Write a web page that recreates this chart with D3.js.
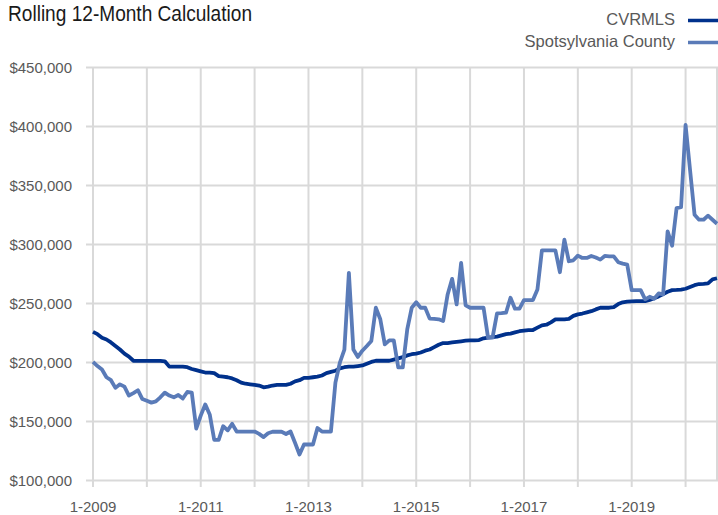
<!DOCTYPE html>
<html>
<head>
<meta charset="utf-8">
<script src="https://cdn.jsdelivr.net/npm/d3@7"></script>
<style>
  html, body { margin: 0; padding: 0; background: #fff; }
  svg { display: block; }
</style>
</head>
<body>
<div id="chart"></div>
<script>
// monthly values, 1-2009 .. 8-2020
const cvrmls = [
  226000, 224000, 221000, 219500, 217000, 214000, 211000, 207500, 205000, 201500, 201400, 201400,
  201400, 201400, 201400, 201400, 201000, 196500, 196500, 196500, 196500, 196000, 194500, 193500,
  192500, 191500, 191500, 191000, 188500, 188000, 187500, 186500, 185000, 183000, 182000, 181500,
  181000, 180500, 179000, 179500, 180500, 181000, 181000, 181000, 182000, 184000, 185000, 187000,
  187000, 187500, 188000, 189000, 191000, 192000, 193000, 195000, 196000, 196500, 196500, 197000,
  197500, 199000, 200500, 201500, 201500, 201500, 201500, 202500, 203500, 204500, 206000, 207000,
  207500, 208500, 210000, 211000, 213000, 215000, 216500, 216500, 217000, 217500, 218000, 218500,
  218800, 218800, 219000, 220500, 221000, 221500, 222000, 223000, 224000, 224500, 225500, 226500,
  227000, 227500, 227500, 229500, 231500, 232000, 234000, 236500, 236600, 236600, 237000, 239500,
  240800, 241500, 242500, 243500, 245000, 246400, 246400, 246400, 247000, 249500, 251000, 251500,
  251800, 252000, 252000, 252000, 253000, 254500, 256000, 258000, 260000, 261300, 261500, 261800,
  262500, 264000, 265500, 266500, 266700, 267000, 270500, 271400
]
const spotsylvania = [
  200500, 197000, 194000, 187500, 185000, 178500, 181500, 179500, 172000, 174000, 176500, 169000,
  167500, 166000, 167000, 170500, 174500, 172000, 170500, 172500, 169500, 175000, 174500, 144000,
  155000, 164500, 156000, 134500, 134500, 146000, 142500, 148000, 141500, 141500, 141500, 141500,
  141500, 139500, 136800, 140000, 141300, 141300, 141300, 139400, 141500, 132000, 122000, 130500,
  130500, 130500, 144500, 141500, 141500, 141500, 183000, 200000, 211000, 276000, 211000, 204700,
  210000, 214000, 218200, 246400, 236600, 215400, 218800, 218800, 195800, 195800, 228000, 246400,
  251000, 246400, 246400, 237200, 237000, 236600, 235200, 257700, 270900, 249200, 284400, 248400,
  246400, 246400, 246400, 246400, 221100, 221100, 241600, 241800, 242200, 254900, 245600, 245600,
  252900, 252900, 252900, 261900, 295100, 295100, 295100, 295100, 276500, 304100, 285800, 286600,
  290600, 288600, 288600, 290300, 289000, 287200, 290300, 290000, 290000, 285000, 283800, 283000,
  261300, 261300, 261300, 253500, 255700, 254000, 258500, 257700, 311100, 299000, 330900, 331700,
  401300, 363000, 325200, 321000, 321000, 324400, 321000, 317600
]
const yTicks = [100000, 150000, 200000, 250000, 300000, 350000, 400000, 450000]
const seriesNames = ['CVRMLS', 'Spotsylvania County']
const seriesColors = ['#00318c', '#5a7bb8']

const startYear = 2009
const months = cvrmls.map((v, i) => `${(i % 12) + 1}-${startYear + Math.floor(i / 12)}`)
const yearStarts = months.filter(m => m.startsWith('1-'))
const labelled = yearStarts.filter(m => (+m.split('-')[1] - startYear) % 2 === 0)

const width = 718
const height = 515
const plot = { left: 93, right: 717, top: 67.5, bottom: 480.5 }

const svg = d3.select('#chart').append('svg')
  .attr('width', width)
  .attr('height', height)

const x = d3.scalePoint().domain(months).range([plot.left, plot.right])
const y = d3.scaleLinear().domain([100000, 450000]).range([plot.bottom, plot.top])

const grid = svg.append('g')
  .attr('stroke', '#d9d9d9')
  .attr('stroke-width', 2)

// horizontal gridlines, with the little tick stub on the left
grid.selectAll('line.h')
  .data(yTicks)
  .enter().append('line')
    .attr('class', 'h')
    .attr('x1', plot.left - 7)
    .attr('x2', plot.right + 1)
    .attr('y1', d => y(d))
    .attr('y2', d => y(d))

// vertical gridlines every january, running past the axis as ticks
grid.selectAll('line.v')
  .data(yearStarts)
  .enter().append('line')
    .attr('class', 'v')
    .attr('x1', d => x(d))
    .attr('x2', d => x(d))
    .attr('y1', plot.top)
    .attr('y2', plot.bottom + 6.5)

grid.append('line')
  .attr('x1', plot.right)
  .attr('x2', plot.right)
  .attr('y1', plot.top)
  .attr('y2', plot.bottom)

const labelFont = '"Liberation Sans", Arial, sans-serif'

svg.append('g')
  .selectAll('text')
  .data(yTicks)
  .enter().append('text')
    .attr('x', 72)
    .attr('y', d => y(d))
    .attr('dy', '0.36em')
    .attr('text-anchor', 'end')
    .style('font-family', labelFont)
    .style('font-size', '15px')
    .attr('fill', '#595959')
    .text(d => '$' + d3.format(',')(d))

svg.append('g')
  .selectAll('text')
  .data(labelled)
  .enter().append('text')
    .attr('x', d => x(d))
    .attr('y', 511.5)
    .attr('text-anchor', 'middle')
    .style('font-family', labelFont)
    .style('font-size', '15px')
    .attr('fill', '#595959')
    .text(d => d)

const line = d3.line()
  .x((d, i) => x(months[i]))
  .y(d => y(d))

svg.append('g')
  .selectAll('path')
  .data([cvrmls, spotsylvania])
  .enter().append('path')
    .attr('d', d => line(d))
    .attr('fill', 'none')
    .attr('stroke', (d, i) => seriesColors[i])
    .attr('stroke-width', 3.8)
    .attr('stroke-linejoin', 'round')

// title, squeezed to the narrow face of the original
svg.append('text')
  .attr('x', 8)
  .attr('y', 20.5)
  .attr('textLength', 244)
  .attr('lengthAdjust', 'spacingAndGlyphs')
  .style('font-family', labelFont)
  .style('font-size', '21.5px')
  .attr('fill', '#1a1a1a')
  .text('Rolling 12-Month Calculation')

// legend
const legend = svg.append('g')
  .selectAll('g')
  .data(seriesNames)
  .enter().append('g')
    .attr('transform', (d, i) => `translate(0, ${i * 22})`)

legend.append('text')
  .attr('x', 675)
  .attr('y', 25)
  .attr('text-anchor', 'end')
  .style('font-family', labelFont)
  .style('font-size', '16.5px')
  .attr('fill', '#595959')
  .text(d => d)

legend.append('line')
  .attr('x1', 688)
  .attr('x2', 726)
  .attr('y1', 20.5)
  .attr('y2', 20.5)
  .attr('stroke', (d, i) => seriesColors[i])
  .attr('stroke-width', 3.5)
</script>
</body>
</html>
